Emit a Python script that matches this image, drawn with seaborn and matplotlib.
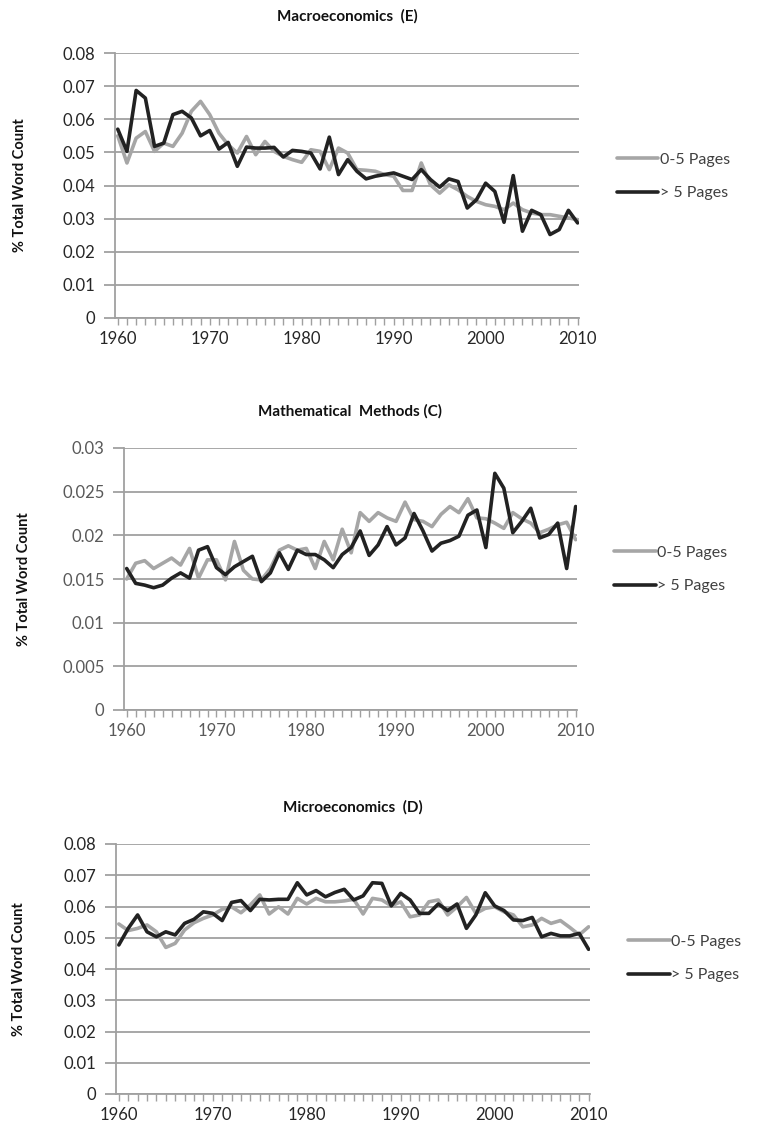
import numpy as np
import pandas as pd
import seaborn as sns
from matplotlib import pyplot as plt
from matplotlib.ticker import MultipleLocator

years = list(range(1960, 2011))

# Macroeconomics (E)
macro_short = [0.0550, 0.0468, 0.0543, 0.0563, 0.0503, 0.0528, 0.0518, 0.0558, 0.0624, 0.0654,
               0.0614, 0.0558, 0.0523, 0.0498, 0.0548, 0.0493, 0.0533, 0.0503, 0.0488, 0.0478,
               0.0470, 0.0508, 0.0503, 0.0448, 0.0513, 0.0498, 0.0448, 0.0446, 0.0443, 0.0433,
               0.0428, 0.0385, 0.0385, 0.0468, 0.0402, 0.0377, 0.0402, 0.0387, 0.0367, 0.0352,
               0.0342, 0.0337, 0.0327, 0.0347, 0.0327, 0.0317, 0.0312, 0.0312, 0.0307, 0.0302,
               0.0297]
macro_long = [0.0570, 0.0503, 0.0687, 0.0664, 0.0518, 0.0528, 0.0614, 0.0624, 0.0604, 0.0550,
              0.0566, 0.0510, 0.0530, 0.0458, 0.0516, 0.0513, 0.0513, 0.0515, 0.0486, 0.0506,
              0.0503, 0.0498, 0.0450, 0.0546, 0.0433, 0.0478, 0.0443, 0.0420, 0.0428, 0.0433,
              0.0438, 0.0428, 0.0418, 0.0448, 0.0418, 0.0395, 0.0420, 0.0412, 0.0332, 0.0357,
              0.0407, 0.0382, 0.0289, 0.0430, 0.0262, 0.0325, 0.0312, 0.0252, 0.0267, 0.0325,
              0.0287]

# Mathematical Methods (C)
math_short = [0.0150, 0.0168, 0.0171, 0.0162, 0.0168, 0.0174, 0.0166, 0.0185, 0.0151, 0.0172,
              0.0172, 0.0149, 0.0193, 0.0160, 0.0150, 0.0149, 0.0162, 0.0183, 0.0188, 0.0183,
              0.0185, 0.0162, 0.0193, 0.0172, 0.0207, 0.0180, 0.0226, 0.0216, 0.0226, 0.0220,
              0.0216, 0.0238, 0.0218, 0.0216, 0.0210, 0.0224, 0.0233, 0.0226, 0.0242, 0.0220,
              0.0219, 0.0214, 0.0208, 0.0226, 0.0219, 0.0214, 0.0203, 0.0207, 0.0212, 0.0215,
              0.0195]
math_long = [0.0162, 0.0145, 0.0143, 0.0140, 0.0143, 0.0151, 0.0157, 0.0151, 0.0183, 0.0187,
             0.0163, 0.0155, 0.0164, 0.0170, 0.0176, 0.0147, 0.0157, 0.0180, 0.0161, 0.0183,
             0.0178, 0.0178, 0.0172, 0.0163, 0.0178, 0.0186, 0.0205, 0.0177, 0.0189, 0.0210,
             0.0189, 0.0197, 0.0225, 0.0205, 0.0182, 0.0191, 0.0194, 0.0199, 0.0223, 0.0229,
             0.0186, 0.0271, 0.0254, 0.0203, 0.0216, 0.0231, 0.0197, 0.0201, 0.0214, 0.0162,
             0.0233]

# Microeconomics (D)
micro_short = [0.0544, 0.0523, 0.0530, 0.0541, 0.0519, 0.0469, 0.0482, 0.0525, 0.0548, 0.0562,
               0.0573, 0.0591, 0.0599, 0.0580, 0.0605, 0.0637, 0.0576, 0.0599, 0.0576, 0.0626,
               0.0608, 0.0626, 0.0615, 0.0615, 0.0618, 0.0623, 0.0576, 0.0626, 0.0621, 0.0602,
               0.0615, 0.0567, 0.0573, 0.0615, 0.0621, 0.0573, 0.0599, 0.0629, 0.0578, 0.0594,
               0.0599, 0.0583, 0.0573, 0.0535, 0.0541, 0.0562, 0.0546, 0.0555, 0.0533, 0.0509,
               0.0535]
micro_long = [0.0477, 0.0530, 0.0573, 0.0519, 0.0503, 0.0519, 0.0509, 0.0546, 0.0559, 0.0583,
              0.0578, 0.0555, 0.0613, 0.0619, 0.0587, 0.0623, 0.0621, 0.0623, 0.0623, 0.0676,
              0.0637, 0.0651, 0.0631, 0.0645, 0.0655, 0.0621, 0.0634, 0.0676, 0.0674, 0.0602,
              0.0642, 0.0621, 0.0578, 0.0578, 0.0608, 0.0587, 0.0608, 0.0530, 0.0573, 0.0644,
              0.0602, 0.0587, 0.0557, 0.0555, 0.0565, 0.0503, 0.0514, 0.0506, 0.0506, 0.0514,
              0.0463]

series_names = ["0-5 Pages", "> 5 Pages"]
palette = {"0-5 Pages": "#a6a6a6", "> 5 Pages": "#222222"}

panels = [
    # title, short, long, ymax, ystep, axes box in pixels (left, top, right, bottom), tick colour, legend y
    ("Macroeconomics  (E)", macro_short, macro_long, 0.08, 0.01, (115, 53, 579, 318), "#262626", 0.534),
    ("Mathematical  Methods (C)", math_short, math_long, 0.03, 0.005, (124, 448, 577, 710), "#595959", 0.536),
    ("Microeconomics  (D)", micro_short, micro_long, 0.08, 0.01, (116, 844, 590, 1094), "#262626", 0.542),
]

W, H = 761, 1129
sns.set_theme(style="white")
plt.rcParams['font.family'] = ['Lato', 'DejaVu Sans']

fig = plt.figure(figsize=(W / 100, H / 100), dpi=100)

for title, short, long_, ymax, ystep, box, tcol, legy in panels:
    l, t, r, b = box
    ax = fig.add_axes([l / W, 1 - b / H, (r - l) / W, (b - t) / H])
    df = pd.DataFrame({
        "Year": years * 2,
        "Value": short + long_,
        "Series": [series_names[0]] * len(years) + [series_names[1]] * len(years),
    })
    sns.lineplot(data=df, x="Year", y="Value", hue="Series", hue_order=series_names,
                 palette=palette, linewidth=2.6, ax=ax, legend=True)

    yt = np.round(np.arange(0, ymax + ystep / 2, ystep), 4)
    ax.set_yticks(yt)
    ax.set_yticklabels(["%g" % v for v in yt])
    ax.set_ylim(0, ymax)
    ax.set_xlim(1959.7, 2010.15)
    ax.xaxis.set_major_locator(MultipleLocator(10))
    ax.xaxis.set_minor_locator(MultipleLocator(1))
    ax.grid(axis="y", color="#a0a0a0", linewidth=1.3)
    ax.set_axisbelow(True)
    for s in ["top", "right"]:
        ax.spines[s].set_visible(False)
    for s in ["left", "bottom"]:
        ax.spines[s].set_color("#a0a0a0")
        ax.spines[s].set_linewidth(1.3)
    ax.tick_params(axis="y", which="major", direction="out", length=8, width=1.3,
                   color="#a0a0a0", labelsize=12, labelcolor=tcol, pad=6, left=True)
    ax.tick_params(axis="x", which="major", direction="out", length=5, width=1.0,
                   color="#a0a0a0", labelsize=12, labelcolor=tcol, pad=4, bottom=True)
    ax.tick_params(axis="x", which="minor", direction="out", length=5, width=1.0,
                   color="#a0a0a0", bottom=True)

    ax.set_xlabel("")
    ax.set_ylabel("% Total Word Count", fontsize=10.5, fontweight="bold", color="#111111")
    ax.yaxis.set_label_coords(-0.19 if l < 120 else -0.205, 0.5)
    ax.set_title(title, fontsize=11, fontweight="bold", color="#111111", pad=23)

    handles, labels = ax.get_legend_handles_labels()
    ax.legend(handles, labels, loc="center left", bbox_to_anchor=(1.05, legy),
              frameon=False, fontsize=11.5, handlelength=2.6, handletextpad=0.1,
              labelspacing=1.2, labelcolor="#404040")

fig.savefig("out.png", dpi=100)
